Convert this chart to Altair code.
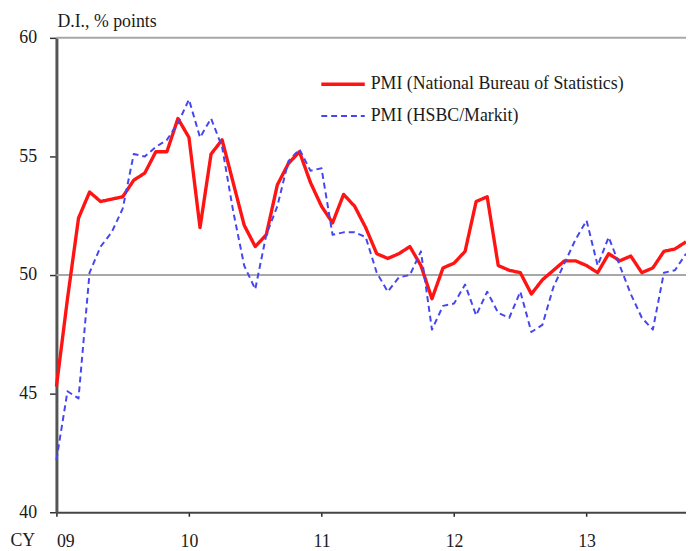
import altair as alt
import pandas as pd

year_labels = ["09", "10", "11", "12", "13"]
series_names = ["PMI (National Bureau of Statistics)", "PMI (HSBC/Markit)"]

# Monthly values, Jan 2009 .. Oct 2013
nbs = [45.3, 49.0, 52.4, 53.5, 53.1, 53.2, 53.3, 54.0, 54.3, 55.2, 55.2, 56.6,
       55.8, 52.0, 55.1, 55.7, 53.9, 52.1, 51.2, 51.7, 53.8, 54.7, 55.2, 53.9,
       52.9, 52.2, 53.4, 52.9, 52.0, 50.9, 50.7, 50.9, 51.2, 50.4, 49.0, 50.3,
       50.5, 51.0, 53.1, 53.3, 50.4, 50.2, 50.1, 49.2, 49.8, 50.2, 50.6, 50.6,
       50.4, 50.1, 50.9, 50.6, 50.8, 50.1, 50.3, 51.0, 51.1, 51.4]
hsbc = [42.2, 45.1, 44.8, 50.1, 51.2, 51.8, 52.8, 55.1, 55.0, 55.4, 55.7, 56.4,
        57.4, 55.8, 56.6, 55.4, 52.7, 50.4, 49.4, 51.7, 52.9, 54.8, 55.3, 54.4,
        54.5, 51.7, 51.8, 51.8, 51.6, 50.1, 49.3, 49.9, 50.0, 51.0, 47.7, 48.7,
        48.8, 49.6, 48.3, 49.3, 48.4, 48.2, 49.3, 47.6, 47.9, 49.5, 50.5, 51.5,
        52.3, 50.4, 51.6, 50.4, 49.2, 48.2, 47.7, 50.1, 50.2, 50.9]
ref_levels = [50, 60]
y_ticks = [40, 45, 50, 55, 60]
x_ticks = [0, 12, 24, 36, 48]

rows = []
for i, v in enumerate(nbs):
    rows.append({"m": i, "v": v, "s": series_names[0]})
for i, v in enumerate(hsbc):
    rows.append({"m": i, "v": v, "s": series_names[1]})
df = pd.DataFrame(rows)
ref_df = pd.DataFrame({"y": ref_levels})

FONT = "Liberation Serif"
label_expr = "[" + ",".join("'%s'" % s for s in year_labels) + "][round(datum.value/12)]"

yscale = alt.Scale(domain=[40, 60], nice=False, zero=False)
xscale = alt.Scale(domain=[0, 57], nice=False, zero=False)


def legend():
    return alt.Legend(title=None, orient="none", legendX=266, legendY=23,
                      symbolType="stroke", symbolSize=1936,
                      labelFont=FONT, labelFontSize=18, labelColor="#1a1a1a",
                      labelLimit=0, labelOffset=4, rowPadding=-1, padding=0)


rules = alt.Chart(ref_df).mark_rule(color="#A8A8A8", strokeWidth=2).encode(
    y=alt.Y("y:Q", scale=yscale)
)

lines = alt.Chart(df).mark_line(strokeJoin="round").encode(
    x=alt.X("m:Q", scale=xscale,
            axis=alt.Axis(values=x_ticks, labelExpr=label_expr, title="CY",
                          grid=False, domainColor="#444444", domainWidth=2,
                          tickColor="#222222", tickSize=4, tickWidth=1.5,
                          labelFont=FONT, labelFontSize=18, labelColor="#1a1a1a",
                          labelPadding=17,
                          titleFont=FONT, titleFontSize=18, titleFontWeight="normal",
                          titleColor="#1a1a1a", titleX=-47, titleY=20,
                          titleAlign="left", titleBaseline="top")),
    y=alt.Y("v:Q", scale=yscale,
            axis=alt.Axis(values=y_ticks, grid=False, domainColor="#555555",
                          domainWidth=3, tickColor="#333333", tickSize=7,
                          tickWidth=1.5, labelFont=FONT, labelFontSize=18,
                          labelColor="#1a1a1a", labelPadding=13, title=None)),
    color=alt.Color("s:N", scale=alt.Scale(domain=series_names, range=["#FF1414", "#4646F0"]),
                    legend=legend()),
    strokeDash=alt.StrokeDash("s:N", scale=alt.Scale(domain=series_names, range=[[1, 0], [6, 4]]),
                              legend=legend()),
    strokeWidth=alt.StrokeWidth("s:N", scale=alt.Scale(domain=series_names, range=[3.4, 2]),
                                legend=legend()),
    order=alt.Order("m:Q"),
)

chart = alt.layer(rules, lines).properties(
    width=637, height=480,
    padding={"left": 49, "top": 27, "right": 0, "bottom": 36},
    autosize=alt.AutoSizeParams(type="none"),
    background="white",
    title=alt.TitleParams("D.I., % points", anchor="start", frame="group",
                          font=FONT, fontSize=18, fontWeight="normal",
                          color="#1a1a1a", offset=6, dx=1, dy=8),
).configure_view(stroke=None)

chart.save("out.html", embed_options={"renderer": "svg", "actions": False})
